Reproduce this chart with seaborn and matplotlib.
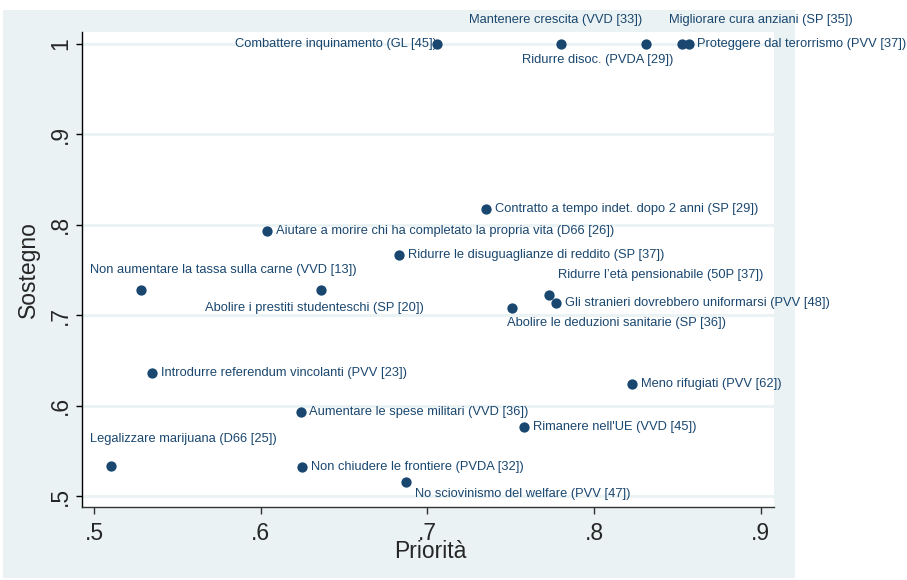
import matplotlib
matplotlib.use("Agg")
import matplotlib.pyplot as plt
import matplotlib.patches as mpatches
import seaborn as sns
import pandas as pd

# ---- data ----
labels = [
    "Combattere inquinamento (GL [45])",
    "Mantenere crescita (VVD [33])",
    "Ridurre disoc. (PVDA [29])",
    "Migliorare cura anziani (SP [35])",
    "Proteggere dal terorrismo (PVV [37])",
    "Contratto a tempo indet. dopo 2 anni (SP [29])",
    "Aiutare a morire chi ha completato la propria vita (D66 [26])",
    "Ridurre le disuguaglianze di reddito (SP [37])",
    "Non aumentare la tassa sulla carne (VVD [13])",
    "Abolire i prestiti studenteschi (SP [20])",
    "Ridurre l\u2019età pensionabile (50P [37])",
    "Gli stranieri dovrebbero uniformarsi (PVV [48])",
    "Abolire le deduzioni sanitarie (SP [36])",
    "Introdurre referendum vincolanti (PVV [23])",
    "Meno rifugiati (PVV [62])",
    "Aumentare le spese militari (VVD [36])",
    "Rimanere nell'UE (VVD [45])",
    "Legalizzare marijuana (D66 [25])",
    "Non chiudere le frontiere (PVDA [32])",
    "No sciovinismo del welfare (PVV [47])",
]
priorita = [0.706, 0.780, 0.831, 0.853, 0.857, 0.735, 0.604, 0.683, 0.528, 0.636,
            0.773, 0.777, 0.751, 0.535, 0.823, 0.624, 0.758, 0.510, 0.625, 0.687]
sostegno = [1.000, 1.000, 1.000, 1.000, 1.000, 0.818, 0.793, 0.767, 0.728, 0.728,
            0.722, 0.714, 0.708, 0.636, 0.624, 0.593, 0.576, 0.533, 0.532, 0.516]

xticks = [0.5, 0.6, 0.7, 0.8, 0.9]
xticklabels = [".5", ".6", ".7", ".8", ".9"]
yticks = [0.5, 0.6, 0.7, 0.8, 0.9, 1.0]
yticklabels = [".5", ".6", ".7", ".8", ".9", "1"]

# label placement (pixel offsets from marker, horizontal alignment)
label_style = [
    ("right", 0, 0), ("center", -5, 24), ("center", -48, -16), ("left", -13, 24),
    ("left", 8, 0), ("left", 9, 0), ("left", 9, 0), ("left", 9, 0),
    ("left", -51, 20), ("center", -6, -18), ("left", 9, 20), ("left", 9, 0),
    ("left", -5, -15), ("left", 9, 0), ("left", 9, 0), ("left", 8, 0),
    ("left", 9, 0), ("left", -21, 27), ("left", 9, 0), ("left", 9, -12),
]

df = pd.DataFrame({"Priorità": priorita, "Sostegno": sostegno, "label": labels})

sns.set_style("white")
plt.rcParams["font.family"] = ["Liberation Sans", "DejaVu Sans"]

W, H = 907, 580
fig = plt.figure(figsize=(W / 100, H / 100), dpi=100, facecolor="white")
bg = "#EAF2F3"
fig.patches.append(mpatches.Rectangle((3 / W, (H - 578) / H), (795 - 3) / W, (578 - 10) / H,
                                      transform=fig.transFigure, facecolor=bg,
                                      edgecolor="none", zorder=-10))
ax = fig.add_axes([82 / W, 1 - 507 / H, (774 - 82) / W, (507 - 32) / H])
ax.set_zorder(1)
ax.set_facecolor("white")

navy = "#1A476F"
sns.scatterplot(data=df, x="Priorità", y="Sostegno", ax=ax, color=navy, s=55,
                edgecolor=navy, linewidth=0, zorder=5, clip_on=False)

for lab, x, y, (ha, dx, dy) in zip(labels, priorita, sostegno, label_style):
    ax.annotate(lab, (x, y), xytext=(dx, dy), textcoords="offset pixels",
                ha=ha, va="center", fontsize=9.3, color=navy, zorder=4,
                annotation_clip=False)

ax.set_xlim(0.4928, 0.9079)
ax.set_ylim(0.4878, 1.0133)
ax.set_xticks(xticks)
ax.set_xticklabels(xticklabels)
ax.set_yticks(yticks)
ax.set_yticklabels(yticklabels, rotation=90, va="center")

ax.grid(axis="y", color=bg, linewidth=2)
ax.grid(axis="x", visible=False)
ax.set_axisbelow(True)

for s in ["top", "right"]:
    ax.spines[s].set_visible(False)
ax.spines["left"].set_color("black")
ax.spines["bottom"].set_color("#333333")
for s in ["left", "bottom"]:
    ax.spines[s].set_linewidth(1)

ax.tick_params(axis="x", length=5, width=1, pad=6, labelsize=16.5, color="#333333",
               bottom=True)
ax.tick_params(axis="y", length=4, width=1, pad=3, labelsize=16.5, color="black",
               left=True)

ax.set_xlabel("Priorità", fontsize=16.5)
ax.set_ylabel("Sostegno", fontsize=16.5)
ax.xaxis.set_label_coords(0.503, -0.07)
ax.yaxis.set_label_coords(-0.061, 0.5)
ax.xaxis.label.set_va("top")

fig.savefig("out.png", dpi=100, facecolor="white")
